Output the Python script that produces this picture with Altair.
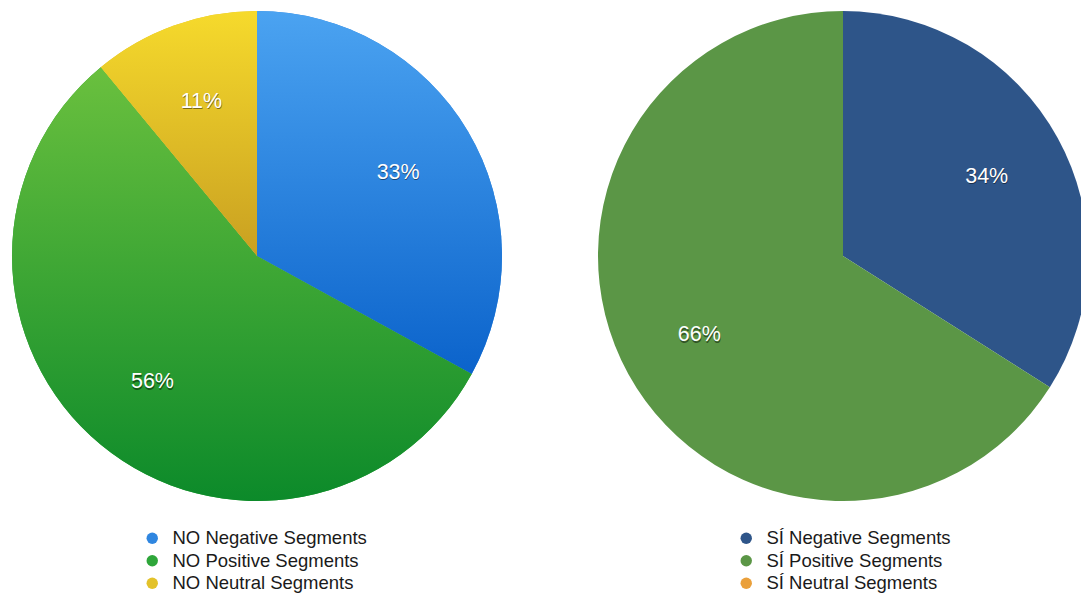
import altair as alt
import pandas as pd

# ---- data ----
left_labels = ["NO Negative Segments", "NO Positive Segments", "NO Neutral Segments"]
left_values = [33, 56, 11]
left_colors = ["#2f86e0", "#2ea63a", "#e3c22a"]
left_grad_top = ["#4ba3f1", "#6ac03e", "#f6da2c"]
left_grad_bot = ["#0b63cb", "#0c8a2a", "#c9a021"]

right_labels = ["SÍ Negative Segments", "SÍ Positive Segments", "SÍ Neutral Segments"]
right_values = [34, 66, 0]
right_colors = ["#2e5589", "#5b9646", "#eaa03b"]

FONT = "Liberation Sans"
R = 245
R_TEXT = 164
LEFT_CX, RIGHT_CX, CY = 257, 843, 256

left_df = pd.DataFrame({"label": left_labels, "value": left_values, "idx": range(3)})
right_df = pd.DataFrame({"label": right_labels, "value": right_values, "idx": range(3)})

theta_scale = alt.Scale(domain=[0, 100])


def legend(x, y):
    return alt.Legend(
        title=None, orient="none", legendX=x, legendY=y,
        symbolType="circle", symbolSize=130, symbolStrokeWidth=0,
        labelFontSize=18.5, labelFont=FONT, labelColor="#1a1a1a",
        labelOffset=11, rowPadding=3.5, padding=0, labelLimit=400,
    )


def flat_pie(df, cx, colors, lx, ly):
    return alt.Chart(df).mark_arc(radius=R, x=cx, y=CY).encode(
        theta=alt.Theta("value:Q", stack=True, scale=theta_scale),
        order=alt.Order("idx:Q", sort="ascending"),
        color=alt.Color("label:N", scale=alt.Scale(domain=list(df["label"]), range=colors),
                        legend=legend(lx, ly)),
    )


def grad_layer(df, cx, i, top, bot):
    g = alt.Gradient(
        gradient="linear",
        stops=[alt.GradientStop(color=top, offset=0), alt.GradientStop(color=bot, offset=1)],
        x1=0, x2=0, y1=0, y2=1,
    )
    return alt.Chart(df).transform_stack(
        stack="value", groupby=[], as_=["v0", "v1"], sort=[alt.SortField("idx", order="ascending")]
    ).transform_filter(f"datum.idx == {i}").mark_arc(radius=R, x=cx, y=CY, fill=g).encode(
        theta=alt.Theta("v0:Q", scale=theta_scale),
        theta2="v1:Q",
    )


def labels(df, cx):
    base = alt.Chart(df).transform_filter("datum.value > 0").transform_calculate(
        pct="datum.value + '%'"
    )
    enc = dict(
        theta=alt.Theta("value:Q", stack=True, scale=theta_scale),
        order=alt.Order("idx:Q", sort="ascending"),
        text="pct:N",
    )
    shadow = base.mark_text(radius=R_TEXT, x=cx, y=CY + 1.5, dx=0.5, fontSize=21.5, font=FONT,
                            color="#000000", opacity=0.45).encode(**enc)
    front = base.mark_text(radius=R_TEXT, x=cx, y=CY, fontSize=21.5, font=FONT,
                           color="#ffffff").encode(**enc)
    return shadow + front


layers = [flat_pie(left_df, LEFT_CX, left_colors, 143, 529)]
for i in range(3):
    layers.append(grad_layer(left_df, LEFT_CX, i, left_grad_top[i], left_grad_bot[i]))
layers.append(labels(left_df, LEFT_CX))
layers.append(flat_pie(right_df, RIGHT_CX, right_colors, 737, 529))
layers.append(labels(right_df, RIGHT_CX))

chart = alt.layer(*layers).resolve_scale(color="independent").properties(
    width=1081, height=595, padding=0, autosize=alt.AutoSizeParams(type="none"),
    background="#ffffff",
).configure_view(stroke=None)

chart.save("out.html", embed_options={"renderer": "svg", "actions": False})
